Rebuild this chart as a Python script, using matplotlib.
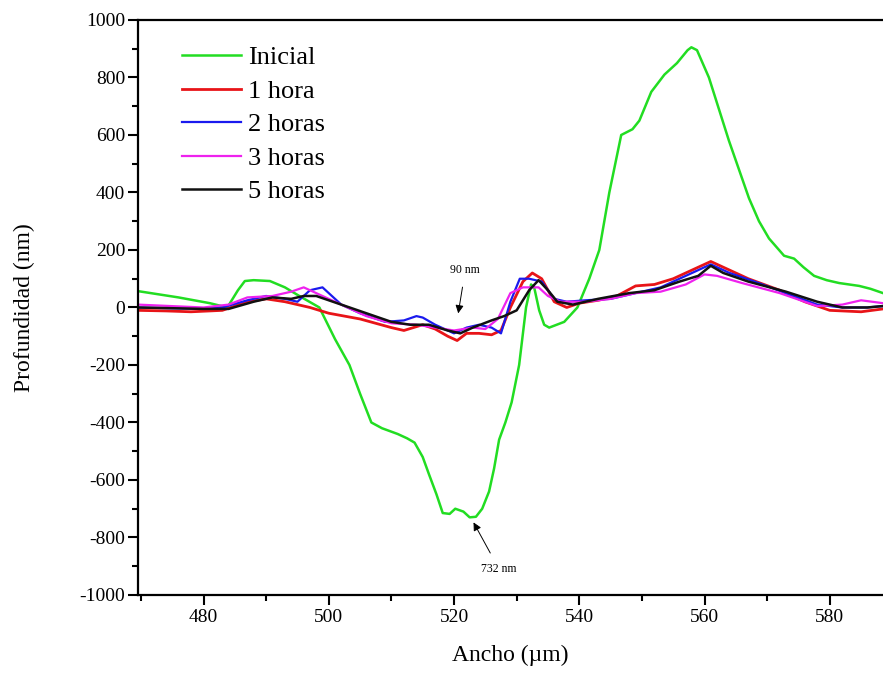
import numpy as np
import matplotlib
matplotlib.use('Agg')
import matplotlib.pyplot as plt
from matplotlib.ticker import MultipleLocator

plt.rcParams['font.family'] = 'Liberation Serif'
plt.rcParams['axes.unicode_minus'] = False

# Inicial
x_ini = [469.5, 476, 481, 483.8, 485.5, 486.6, 488, 490.6, 493, 495.3, 498.5, 501, 503.3,
         505, 506.8, 508.5, 511, 512.5, 513.7, 515, 516, 517.2, 518.2, 519.3, 520.2, 521.5,
         522.5, 523.5, 524.5, 525.6, 526.4, 527.2, 528.2, 529.2, 530.4, 531.5, 532.3, 532.8,
         533.6, 534.4, 535.2, 536.4, 537.6, 539.7, 541.6, 543.2, 544.8, 546.7, 548.5, 549.6,
         551.5, 553.6, 555.6, 557.3, 557.9, 558.8, 560.7, 562.3, 563.9, 565.5, 567.1, 568.7,
         570.3, 572.7, 574.3, 575.8, 577.5, 579.5, 581.5, 584.7, 586.5, 588.5]
y_ini = [57, 35, 15, 0, 60, 92, 95, 92, 70, 40, 0, -110, -200,
         -300, -400, -420, -440, -455, -470, -520, -580, -650, -715, -718, -700, -710,
         -730, -728, -700, -640, -560, -460, -400, -330, -200, 0, 80, 70,
         -10, -60, -70, -60, -50, 0, 100, 200, 400, 600, 620, 650,
         750, 810, 850, 895, 905, 895, 800, 690, 580, 480, 380, 300,
         240, 180, 170, 140, 110, 95, 85, 75, 65, 50]

# 1 hora
x_1h = [469.5, 474, 478, 483, 485, 487, 490, 493, 497, 500, 505, 510, 512, 515, 517, 519,
        520.5, 522, 524, 526, 527.5, 529, 531, 532.5, 534, 536, 538, 540, 543, 546, 549,
        552, 555, 558, 561, 563, 567, 572, 576, 580, 585, 588.5]
y_1h = [-10, -12, -15, -10, 5, 20, 30, 20, 0, -20, -40, -70, -80, -60, -75, -100,
        -115, -90, -90, -95, -80, 0, 90, 120, 100, 20, 0, 15, 25, 40, 75,
        80, 100, 130, 160, 140, 100, 60, 20, -10, -15, -5]

# 2 horas
x_2h = [469.5, 480, 483, 487, 490, 493, 495, 497, 499, 502, 505, 509, 512, 514, 515, 517,
        520, 522, 524, 526, 527.5, 529, 530.5, 532, 534, 536, 538, 541, 545, 549, 553,
        557, 561, 564, 568, 573, 578, 582, 586, 588.5]
y_2h = [0, -5, 0, 25, 40, 30, 20, 60, 70, 10, -20, -50, -45, -30, -35, -60,
        -90, -70, -60, -70, -90, 20, 100, 100, 90, 30, 20, 25, 30, 50, 70,
        110, 150, 120, 90, 50, 10, 0, 0, 5]

# 3 horas
x_3h = [469.5, 480, 484, 487, 491, 494, 496, 498, 502, 506, 510, 514, 517, 520, 523, 525,
        527, 529, 531, 533.5, 535, 537, 541, 545, 549, 553, 557, 560, 562, 566, 572, 578,
        582, 585, 588.5]
y_3h = [10, 0, 10, 35, 40, 55, 70, 50, 10, -30, -55, -60, -70, -80, -70, -75,
        -40, 50, 70, 70, 40, 20, 20, 30, 50, 55, 80, 115, 110, 85, 50, 5,
        10, 25, 15]

# 5 horas
x_5h = [469.5, 480, 484, 488, 491, 494, 496, 498, 502, 506, 510, 513, 516, 519, 521, 523,
        526, 528, 530, 532, 533.5, 535, 536.5, 539, 543, 548, 552, 556, 559, 561, 563,
        567, 573, 578, 582, 586, 588.5]
y_5h = [0, -5, -5, 20, 35, 30, 40, 40, 10, -20, -50, -60, -60, -80, -90, -70,
        -45, -30, -10, 60, 95, 60, 20, 10, 30, 50, 60, 90, 110, 145, 120,
        90, 55, 20, 0, 0, 5]

series = [
    ('Inicial', x_ini, y_ini, '#22dd22', 1.8),
    ('1 hora', x_1h, y_1h, '#e81418', 2.0),
    ('2 horas', x_2h, y_2h, '#1a1aee', 1.6),
    ('3 horas', x_3h, y_3h, '#ee22ee', 1.6),
    ('5 horas', x_5h, y_5h, '#111111', 1.8),
]

fig = plt.figure(figsize=(8.83, 6.82), dpi=100)
ax = fig.add_axes([0.156, 0.1276, 0.844, 0.8431])

for name, xs, ys, col, lw in series:
    ax.plot(xs, ys, color=col, lw=lw, label=name)

ax.set_xlim(469.5, 588.5)
ax.set_ylim(-1000, 1000)
ax.xaxis.set_major_locator(MultipleLocator(20))
ax.xaxis.set_minor_locator(MultipleLocator(10))
ax.yaxis.set_major_locator(MultipleLocator(200))
ax.yaxis.set_minor_locator(MultipleLocator(100))
ax.tick_params(which='major', direction='out', length=7, width=1.5, labelsize=14, pad=3)
ax.tick_params(axis='y', which='major', pad=2)
ax.tick_params(which='minor', direction='out', length=4, width=1.5)
for s in ax.spines.values():
    s.set_linewidth(1.6)
ax.spines['right'].set_visible(False)

ax.set_xlabel('Ancho (µm)', fontsize=17, labelpad=14)
ax.set_ylabel('Profundidad (nm)', fontsize=17, labelpad=32)

ax.annotate('90 nm', xy=(520.6, -30), xytext=(521.8, 130), fontsize=8.5,
            ha='center', va='center',
            arrowprops=dict(arrowstyle='-|>', color='k', lw=0.7, mutation_scale=12, shrinkA=6))
ax.annotate('732 nm', xy=(522.9, -739), xytext=(527.2, -910), fontsize=8.5,
            ha='center', va='center',
            arrowprops=dict(arrowstyle='-|>', color='k', lw=0.7, mutation_scale=12, shrinkA=6))

ax.legend(loc='upper left', bbox_to_anchor=(0.06, 0.955), frameon=False, fontsize=19,
          handlelength=2.2, handletextpad=0.3, labelspacing=0.38, borderaxespad=0,
          borderpad=0)

fig.savefig('out.png', dpi=100)
